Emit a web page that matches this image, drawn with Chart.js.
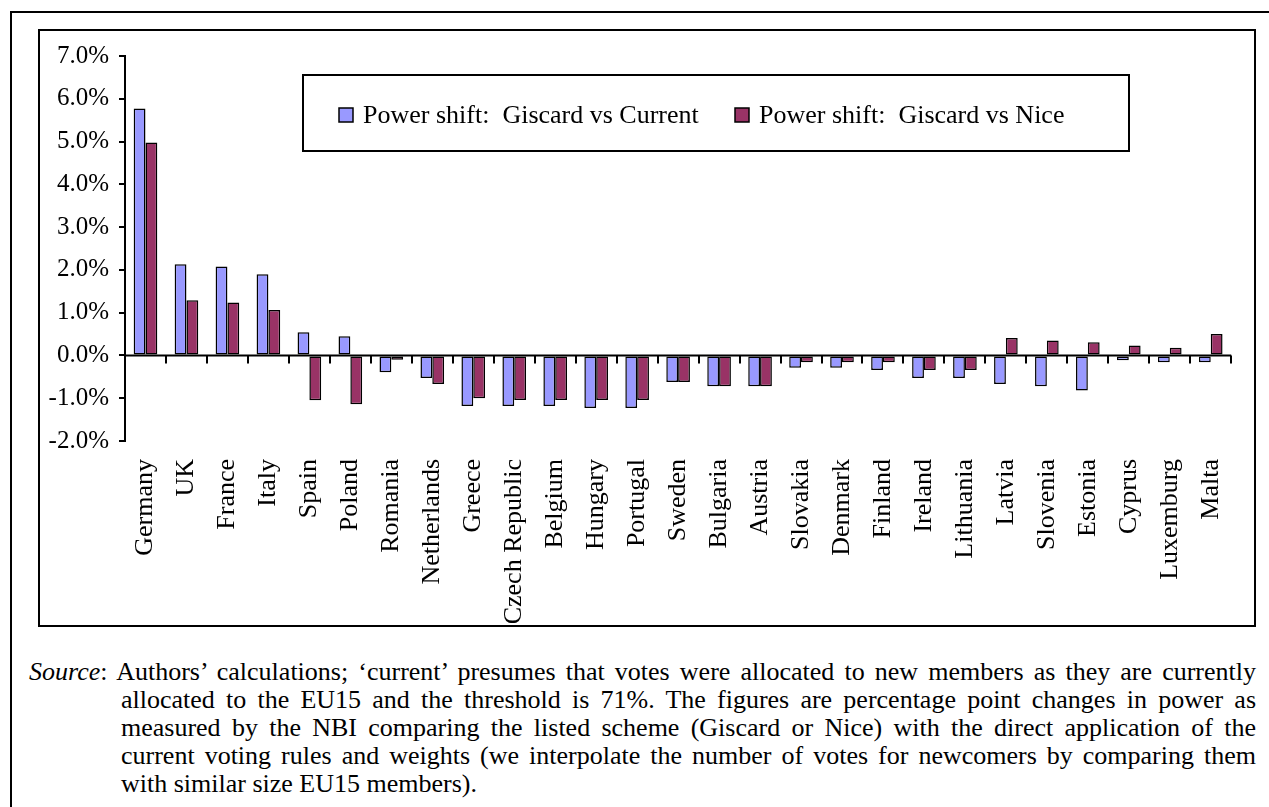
<!DOCTYPE html>
<html>
<head>
<meta charset="utf-8">
<script src="https://cdn.jsdelivr.net/npm/chart.js@4/dist/chart.umd.min.js"></script>
<style>
    body { margin: 0; background: #fff; width: 1269px; height: 807px; overflow: hidden; position: relative; font-family: "Liberation Serif", "Times New Roman", serif; }
    .outer { position: absolute; left: 10px; top: 11px; width: 1300px; height: 900px; border-left: 2px solid #000; border-top: 2px solid #000; }
    .frame { position: absolute; left: 38px; top: 29px; width: 1214px; height: 594px; border: 2px solid #000; }
    .wrap { position: absolute; left: 40px; top: 31px; width: 1212px; height: 592px; overflow: hidden; }
    .note { position: absolute; left: 29px; top: 658px; width: 1227px; font-size: 26px; line-height: 28px; color: #000; }
    .note div { text-align: justify; text-align-last: justify; white-space: nowrap; }
    .note div.last { text-align-last: left; }
    .note .ind { padding-left: 92px; }
</style>
</head>
<body>
<div class="outer"></div>
<div class="frame"></div>
<div class="wrap"><canvas id="powerChart"></canvas></div>
<div class="note">
    <div><i>Source</i>: Authors’ calculations; ‘current’ presumes that votes were allocated to new members as they are currently</div>
    <div class="ind">allocated to the EU15 and the threshold is 71%. The figures are percentage point changes in power as</div>
    <div class="ind">measured by the NBI comparing the listed scheme (Giscard or Nice) with the direct application of the</div>
    <div class="ind">current voting rules and weights (we interpolate the number of votes for newcomers by comparing them</div>
    <div class="ind last">with similar size EU15 members).</div>
</div>
<script>
// values, in percentage points
const countries = ['Germany', 'UK', 'France', 'Italy', 'Spain', 'Poland', 'Romania', 'Netherlands', 'Greece',
    'Czech Republic', 'Belgium', 'Hungary', 'Portugal', 'Sweden', 'Bulgaria', 'Austria', 'Slovakia', 'Denmark',
    'Finland', 'Ireland', 'Lithuania', 'Latvia', 'Slovenia', 'Estonia', 'Cyprus', 'Luxemburg', 'Malta'];
const vsCurrent = [5.77, 2.13, 2.08, 1.90, 0.54, 0.45, -0.39, -0.53, -1.18, -1.18, -1.18, -1.23, -1.23, -0.62,
    -0.72, -0.72, -0.29, -0.29, -0.34, -0.53, -0.53, -0.67, -0.72, -0.82, -0.11, -0.16, -0.16];
const vsNice = [4.98, 1.29, 1.24, 1.06, -1.05, -1.14, -0.10, -0.67, -1.00, -1.04, -1.04, -1.04, -1.04, -0.62,
    -0.72, -0.72, -0.16, -0.16, -0.16, -0.34, -0.34, 0.41, 0.35, 0.31, 0.23, 0.18, 0.50];
const yTicks = [-2, -1, 0, 1, 2, 3, 4, 5, 6, 7];

const FONT = '"Liberation Serif", "Times New Roman", serif';

// zero line with the little category ticks hanging below it
const zeroAxis = {
    id: 'zeroAxis',
    afterDatasetsDraw(chart) {
        const ctx = chart.ctx;
        const x = chart.scales.x;
        const y0 = chart.scales.y.getPixelForValue(0);
        const step = (x.right - x.left) / countries.length;
        ctx.save();
        ctx.strokeStyle = '#000';
        ctx.lineWidth = 2;
        ctx.beginPath();
        ctx.moveTo(x.left, y0);
        ctx.lineTo(x.right, y0);
        for (let i = 1; i <= countries.length; i++) {
            const px = Math.round(x.left + i * step);
            ctx.moveTo(px, y0);
            ctx.lineTo(px, y0 + 8);
        }
        ctx.stroke();
        ctx.restore();
    }
};

// boxed legend sitting inside the plot
const boxLegend = {
    id: 'boxLegend',
    afterDraw(chart) {
        const ctx = chart.ctx;
        const items = [
            { ds: chart.data.datasets[0], sx: 299 },
            { ds: chart.data.datasets[1], sx: 695 }
        ];
        ctx.save();
        ctx.strokeStyle = '#000';
        ctx.lineWidth = 2;
        ctx.strokeRect(263, 44, 826, 76);
        ctx.font = '26px ' + FONT;
        ctx.textBaseline = 'middle';
        items.forEach(function(it) {
            ctx.fillStyle = it.ds.backgroundColor;
            ctx.fillRect(it.sx, 77, 14, 14);
            ctx.lineWidth = 1.5;
            ctx.strokeRect(it.sx, 77, 14, 14);
            ctx.fillStyle = '#000';
            ctx.fillText(it.ds.label, it.sx + 24, 85);
        });
        ctx.restore();
    }
};

new Chart(document.getElementById('powerChart').getContext('2d'), {
    type: 'bar',
    data: {
        labels: countries,
        datasets: [
            {
                label: 'Power shift:  Giscard vs Current',
                data: vsCurrent,
                backgroundColor: '#9999FF',
                borderColor: '#000',
                borderWidth: 1.5,
                borderSkipped: false
            },
            {
                label: 'Power shift:  Giscard vs Nice',
                data: vsNice,
                backgroundColor: '#993366',
                borderColor: '#000',
                borderWidth: 1.5,
                borderSkipped: false
            }
        ]
    },
    options: {
        responsive: true,
        maintainAspectRatio: false,
        animation: false,
        layout: { padding: { top: 24, right: 3, left: 0, bottom: 0 } },
        datasets: { bar: { categoryPercentage: 0.577, barPercentage: 1 } },
        plugins: {
            legend: { display: false },
            tooltip: { enabled: false }
        },
        scales: {
            x: {
                afterFit: function(scale) { scale.height = 182; },
                grid: { display: false },
                border: { display: false },
                ticks: {
                    autoSkip: false,
                    minRotation: 90,
                    maxRotation: 90,
                    padding: 10,
                    color: '#000',
                    font: { family: FONT, size: 26 }
                }
            },
            y: {
                min: -2,
                max: 7,
                afterFit: function(scale) { scale.width = 85; },
                afterBuildTicks: function(scale) { scale.ticks = yTicks.map(v => ({ value: v })); },
                border: { display: true, color: '#000', width: 2 },
                grid: { drawOnChartArea: false, color: '#000', lineWidth: 2, tickLength: 6 },
                ticks: {
                    padding: 10,
                    color: '#000',
                    font: { family: FONT, size: 25 },
                    callback: function(value) { return value.toFixed(1) + '%'; }
                }
            }
        }
    },
    plugins: [zeroAxis, boxLegend]
});
</script>
</body>
</html>
